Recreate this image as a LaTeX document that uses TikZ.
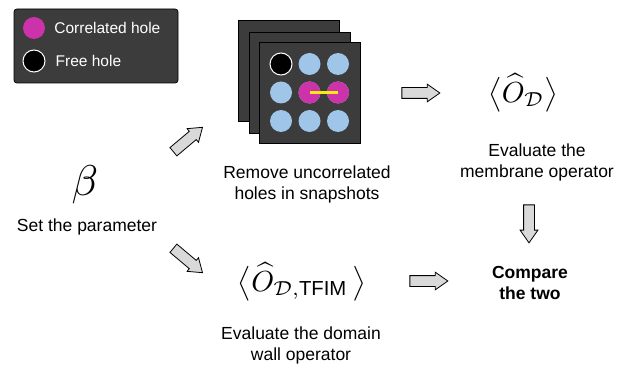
\documentclass[tikz,border=0pt]{standalone}
\usepackage{amsmath}
\usepackage{fontspec}
\setmainfont{Liberation Sans}
\usetikzlibrary{shapes.arrows,positioning}

\definecolor{panel}{HTML}{3C3C3C}
\definecolor{corrhole}{HTML}{CC33AA}
\definecolor{site}{HTML}{9FC5E8}
\definecolor{bond}{HTML}{F2EA10}
\definecolor{arrowgray}{HTML}{D9D9D9}

\begin{document}
\begin{tikzpicture}[x=1pt,y=-1pt,
  fatarrow/.style={single arrow,draw,fill=arrowgray,line width=0.8pt,inner xsep=0pt,inner ysep=5pt,
    minimum height=38pt,single arrow head extend=3.5pt,single arrow tip angle=70},
  lbl/.style={font=\fontsize{17.5}{21}\selectfont,align=center,inner sep=0pt},
  hole/.style={circle,inner sep=0pt,minimum size=22pt,fill=site},
  snap/.style={fill=panel,draw=black,line width=0.8pt}]
\useasboundingbox (0,0) rectangle (620,366);

% legend
\draw[fill=panel,line width=0.8pt,rounded corners=3pt] (14,9) rectangle (178,83);
\node[hole,fill=corrhole] (key_c) at (34,28) {};
\node[hole,fill=black,draw=white,line width=1pt] (key_f) at (34,61) {};
\node[lbl,font=\fontsize{15.5}{18}\selectfont,text=white,anchor=west] [right=9pt of key_c] {Correlated hole};
\node[lbl,font=\fontsize{15.5}{18}\selectfont,text=white,anchor=west] [right=10pt of key_f] {Free hole};

% snapshots
\draw[snap] (238,20) rectangle (339,121);
\draw[snap] (249,32) rectangle (350,133);
\draw[snap] (259,42) rectangle (360,143);
\foreach \r/\y in {1/64,2/92.5,3/121}
  \foreach \c/\x in {1/281,2/309.5,3/338}
    \node[hole] (h\r\c) at (\x,\y) {};
\node[hole,fill=black,draw=white,line width=1pt] at (h11) {};
\node[hole,fill=corrhole] at (h22) {};
\node[hole,fill=corrhole] at (h23) {};
\draw[bond,line width=2.5pt] (h22.center) -- (h23.center);

% text
\node (beta) at (85,185) {\scalebox{4.3}{$\beta$}};
\node[lbl,anchor=base] (set) at (87,231) {Set the parameter};
\node (memb) at (523,93) {\scalebox{2.9}{$\bigl\langle\widehat{O}_{\mathcal{D}}\bigr\rangle$}};
\node[lbl,anchor=north] (remove) at (307,165.5) {Remove uncorrelated\\holes in snapshots};
\node[lbl,anchor=north] (evalmemb) at (537,143.5) {Evaluate the\\membrane operator};
\node (tfim) at (302,282) {\scalebox{2.9}{$\bigl\langle\widehat{O}_{\mathcal{D},\text{TFIM}}\,\bigr\rangle$}};
\node[lbl,anchor=north] (evaldw) at (301,326.5) {Evaluate the domain\\wall operator};
\node[lbl,anchor=north,font=\fontsize{17.5}{21}\selectfont\bfseries] (compare) at (530,266.5) {Compare\\the two};

% block arrows
\node[fatarrow,rotate=40] (a1) at (185,142) {};
\node[fatarrow,rotate=-40] (a2) at (185,258) {};
\node[fatarrow] (a3) at (417,93) {};
\node[fatarrow] (a4) at (425,281) {};
\node[fatarrow,rotate=-90] (a5) at (529,220) {};
\end{tikzpicture}
\end{document}
